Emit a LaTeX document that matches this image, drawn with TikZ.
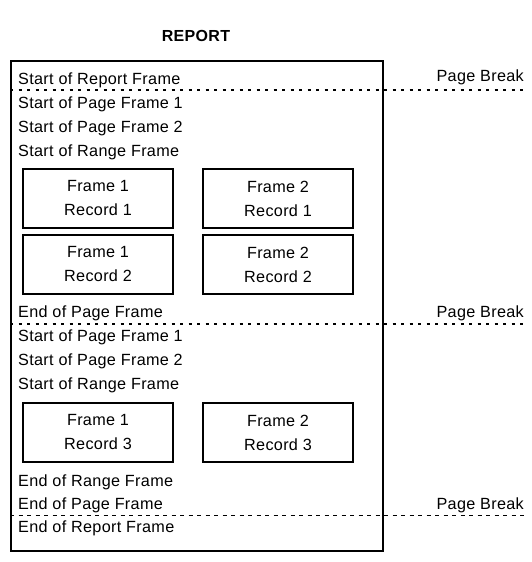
\documentclass[tikz,border=0pt]{standalone}
\usepackage{fontspec}
\setmainfont[LetterSpace=2]{Liberation Sans}
\begin{document}
\begin{tikzpicture}[x=1pt,y=-1pt,
  lbl/.style={anchor=base west,inner sep=0pt,font=\fontsize{16.2}{18}\selectfont},
  pb/.style={anchor=base east,inner sep=0pt,font=\fontsize{16.2}{18}\selectfont},
  rec/.style={draw,line width=2pt,minimum width=150pt,minimum height=59pt,inner sep=0pt,anchor=north west,align=center,font=\fontsize{16.2}{24}\selectfont},
  thickbreak/.style={line width=2pt,dash pattern=on 3pt off 5.5pt},
  thinbreak/.style={line width=1pt,dash pattern=on 4pt off 4.5pt}]
\useasboundingbox (0,0) rectangle (532,562);
\node[anchor=base,inner sep=0pt,font=\bfseries\fontsize{16}{18}\selectfont] (title) at (196,41) {REPORT};
\node[draw,line width=2pt,anchor=north west,minimum width=372pt,minimum height=490pt,inner sep=0pt] (report) at (10,60) {};
% page breaks
\coordinate (b1s) at (10,90); \coordinate (b1e) at (524,90);
\coordinate (b2s) at (10,323.5); \coordinate (b2e) at (524,323.5);
\coordinate (b3s) at (10,515); \coordinate (b3e) at (524,515);
\draw[thickbreak] (b1s) -- (b1e);
\draw[thickbreak] (b2s) -- (b2e);
\draw[thinbreak] (b3s) -- (b3e);
\node[pb] (pb1) at (524,81) {Page Break};
\node[pb] (pb2) at (524,317) {Page Break};
\node[pb] (pb3) at (524,509) {Page Break};
% left labels
\node[lbl] (l1) at (18,84) {Start of Report Frame};
\node[lbl] (l2) at (18,108) {Start of Page Frame 1};
\node[lbl] (l3) at (18,132.5) {Start of Page Frame 2};
\node[lbl] (l4) at (18,156.5) {Start of Range Frame};
\node[lbl] (l5) at (18,317) {End of Page Frame};
\node[lbl] (l6) at (18,341) {Start of Page Frame 1};
\node[lbl] (l7) at (18,365.5) {Start of Page Frame 2};
\node[lbl] (l8) at (18,389.5) {Start of Range Frame};
\node[lbl] (l9) at (18,486) {End of Range Frame};
\node[lbl] (l10) at (18,509) {End of Page Frame};
\node[lbl] (l11) at (18,532) {End of Report Frame};
% record boxes
\node[rec] (f1r1) at (22,168) {Frame 1\\Record 1};
\node[rec] (f2r1) at (202,168) {Frame 2\\Record 1};
\node[rec] (f1r2) at (22,234) {Frame 1\\Record 2};
\node[rec] (f2r2) at (202,234) {Frame 2\\Record 2};
\node[rec] (f1r3) at (22,402) {Frame 1\\Record 3};
\node[rec] (f2r3) at (202,402) {Frame 2\\Record 3};
\end{tikzpicture}
\end{document}
